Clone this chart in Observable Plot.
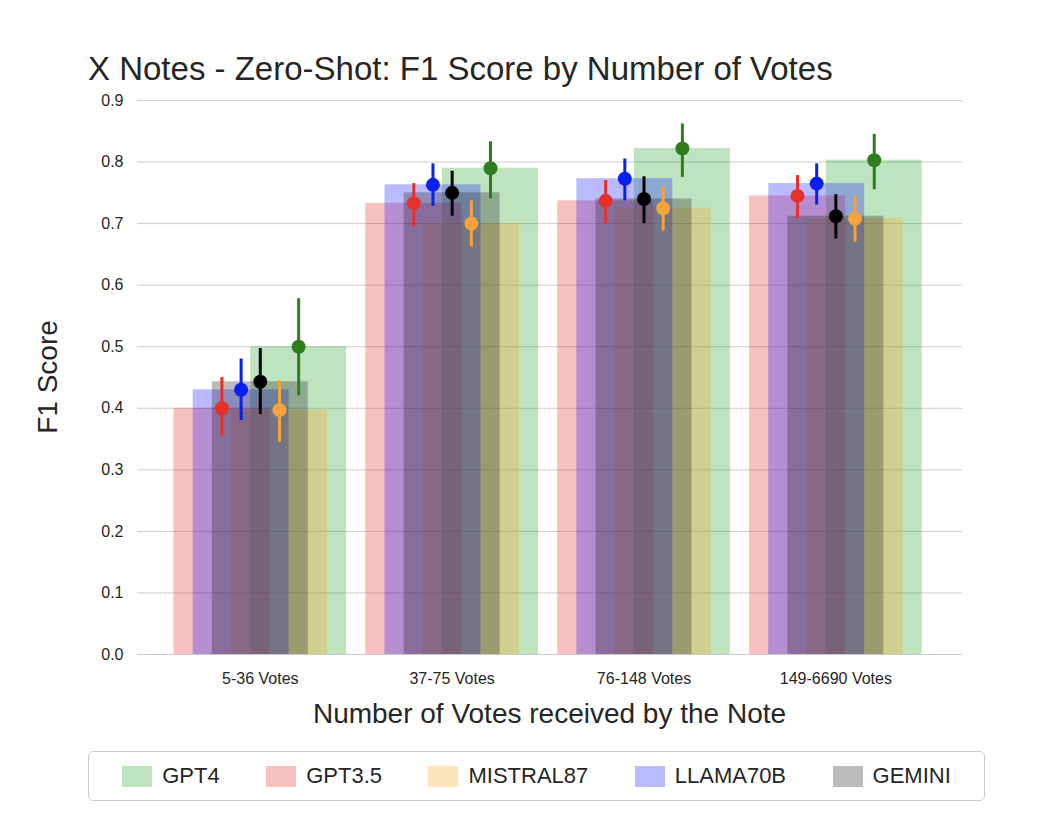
<!DOCTYPE html>
<html><head><meta charset="utf-8">
<script src="https://cdn.jsdelivr.net/npm/d3@7"></script>
<script src="https://cdn.jsdelivr.net/npm/@observablehq/plot@0.6"></script>
<style>
body{margin:0;background:#fff;font-family:"Liberation Sans",Arial,sans-serif;}
#wrap{position:relative;width:1048px;height:814px;}
#plot{position:absolute;left:0;top:0}
#title{position:absolute;top:50px;left:88px;width:930px;text-align:left;font-size:33px;color:#262626;white-space:nowrap}
#xl{position:absolute;top:698px;left:137px;width:825px;text-align:center;font-size:28px;color:#262626}
#yl{position:absolute;top:377px;left:32px;font-size:28px;color:#262626;transform:translate(-50%,-50%) rotate(-90deg);transform-origin:center;white-space:nowrap;margin-left:16px}
#legend{position:absolute;left:88px;top:751px;width:897px;height:50px;border:1.5px solid #ccc;border-radius:5px;box-sizing:border-box;display:flex;align-items:center;justify-content:space-around;font-size:22px;color:#262626;padding:0 10px;}
.it{display:flex;align-items:center;gap:10px}
.sw{width:30px;height:21px;display:inline-block}
</style></head><body>
<div id="wrap"><div id="plot"></div><div id="title">X Notes - Zero-Shot: F1 Score by Number of Votes</div><div id="xl">Number of Votes received by the Note</div><div id="yl">F1 Score</div><div id="legend"></div></div>
<script>
const groups=["5-36 Votes","37-75 Votes","76-148 Votes","149-6690 Votes"];
const models=["GPT4","GPT3.5","MISTRAL87","LLAMA70B","GEMINI"];
const barColors={"GPT4":"#2ca02c","GPT3.5":"#e8302a","MISTRAL87":"#f5a623","LLAMA70B":"#1a1aff","GEMINI":"#222"};
const dotColors={"GPT4":"#2e7d1e","GPT3.5":"#e8302a","MISTRAL87":"#f5a33a","LLAMA70B":"#0a20f0","GEMINI":"#000"};
const offsets={"GPT3.5":-0.2,"LLAMA70B":-0.1,"GEMINI":0,"MISTRAL87":0.1,"GPT4":0.2};
const scores={"GPT4":[0.50,0.79,0.822,0.803],"GPT3.5":[0.40,0.733,0.737,0.745],"MISTRAL87":[0.397,0.70,0.725,0.708],"LLAMA70B":[0.43,0.763,0.773,0.765],"GEMINI":[0.443,0.75,0.74,0.712]};
const lows={"GPT4":[0.42,0.74,0.775,0.755],"GPT3.5":[0.355,0.695,0.70,0.708],"MISTRAL87":[0.345,0.662,0.688,0.67],"LLAMA70B":[0.38,0.728,0.737,0.73],"GEMINI":[0.39,0.712,0.70,0.675]};
const highs={"GPT4":[0.578,0.833,0.862,0.845],"GPT3.5":[0.45,0.765,0.77,0.778],"MISTRAL87":[0.445,0.737,0.76,0.745],"LLAMA70B":[0.48,0.797,0.805,0.797],"GEMINI":[0.497,0.785,0.776,0.747]};
const yTicks=[0,0.1,0.2,0.3,0.4,0.5,0.6,0.7,0.8,0.9];
const data=[];
models.forEach(m=>groups.forEach((g,i)=>data.push({m,i,x:i+offsets[m],v:scores[m][i],lo:lows[m][i],hi:highs[m][i]})));
const plot=Plot.plot({
 width:1048,height:814,marginLeft:137,marginRight:86,marginTop:100,marginBottom:160,
 style:{fontFamily:"Liberation Sans, Arial, sans-serif",fontSize:"16px",color:"#262626"},
 x:{domain:[-0.64,3.66],ticks:[0,1,2,3],tickFormat:i=>groups[i],tickSize:0,tickPadding:18,label:null},
 y:{domain:[0,0.9],ticks:yTicks,tickFormat:d3.format(".1f"),tickSize:0,tickPadding:14,label:null},
 color:{domain:models,range:models.map(m=>barColors[m])},
 marks:[
  Plot.ruleY(yTicks,{stroke:"#ccc",strokeOpacity:1}),
  Plot.rectY(data,{x1:d=>d.x-0.25,x2:d=>d.x+0.25,y:"v",fill:"m",fillOpacity:0.3}),
  Plot.ruleX(data,{x:"x",y1:"lo",y2:"hi",stroke:d=>dotColors[d.m],strokeWidth:3}),
  Plot.dot(data,{x:"x",y:"v",fill:d=>dotColors[d.m],r:7})
 ]
});
document.getElementById("plot").appendChild(plot);
const lg=document.getElementById("legend");
models.forEach(m=>{const d=document.createElement("div");d.className="it";d.innerHTML=`<span class="sw" style="background:${barColors[m]};opacity:0.3"></span>${m}`;lg.appendChild(d);});
</script></body></html>
